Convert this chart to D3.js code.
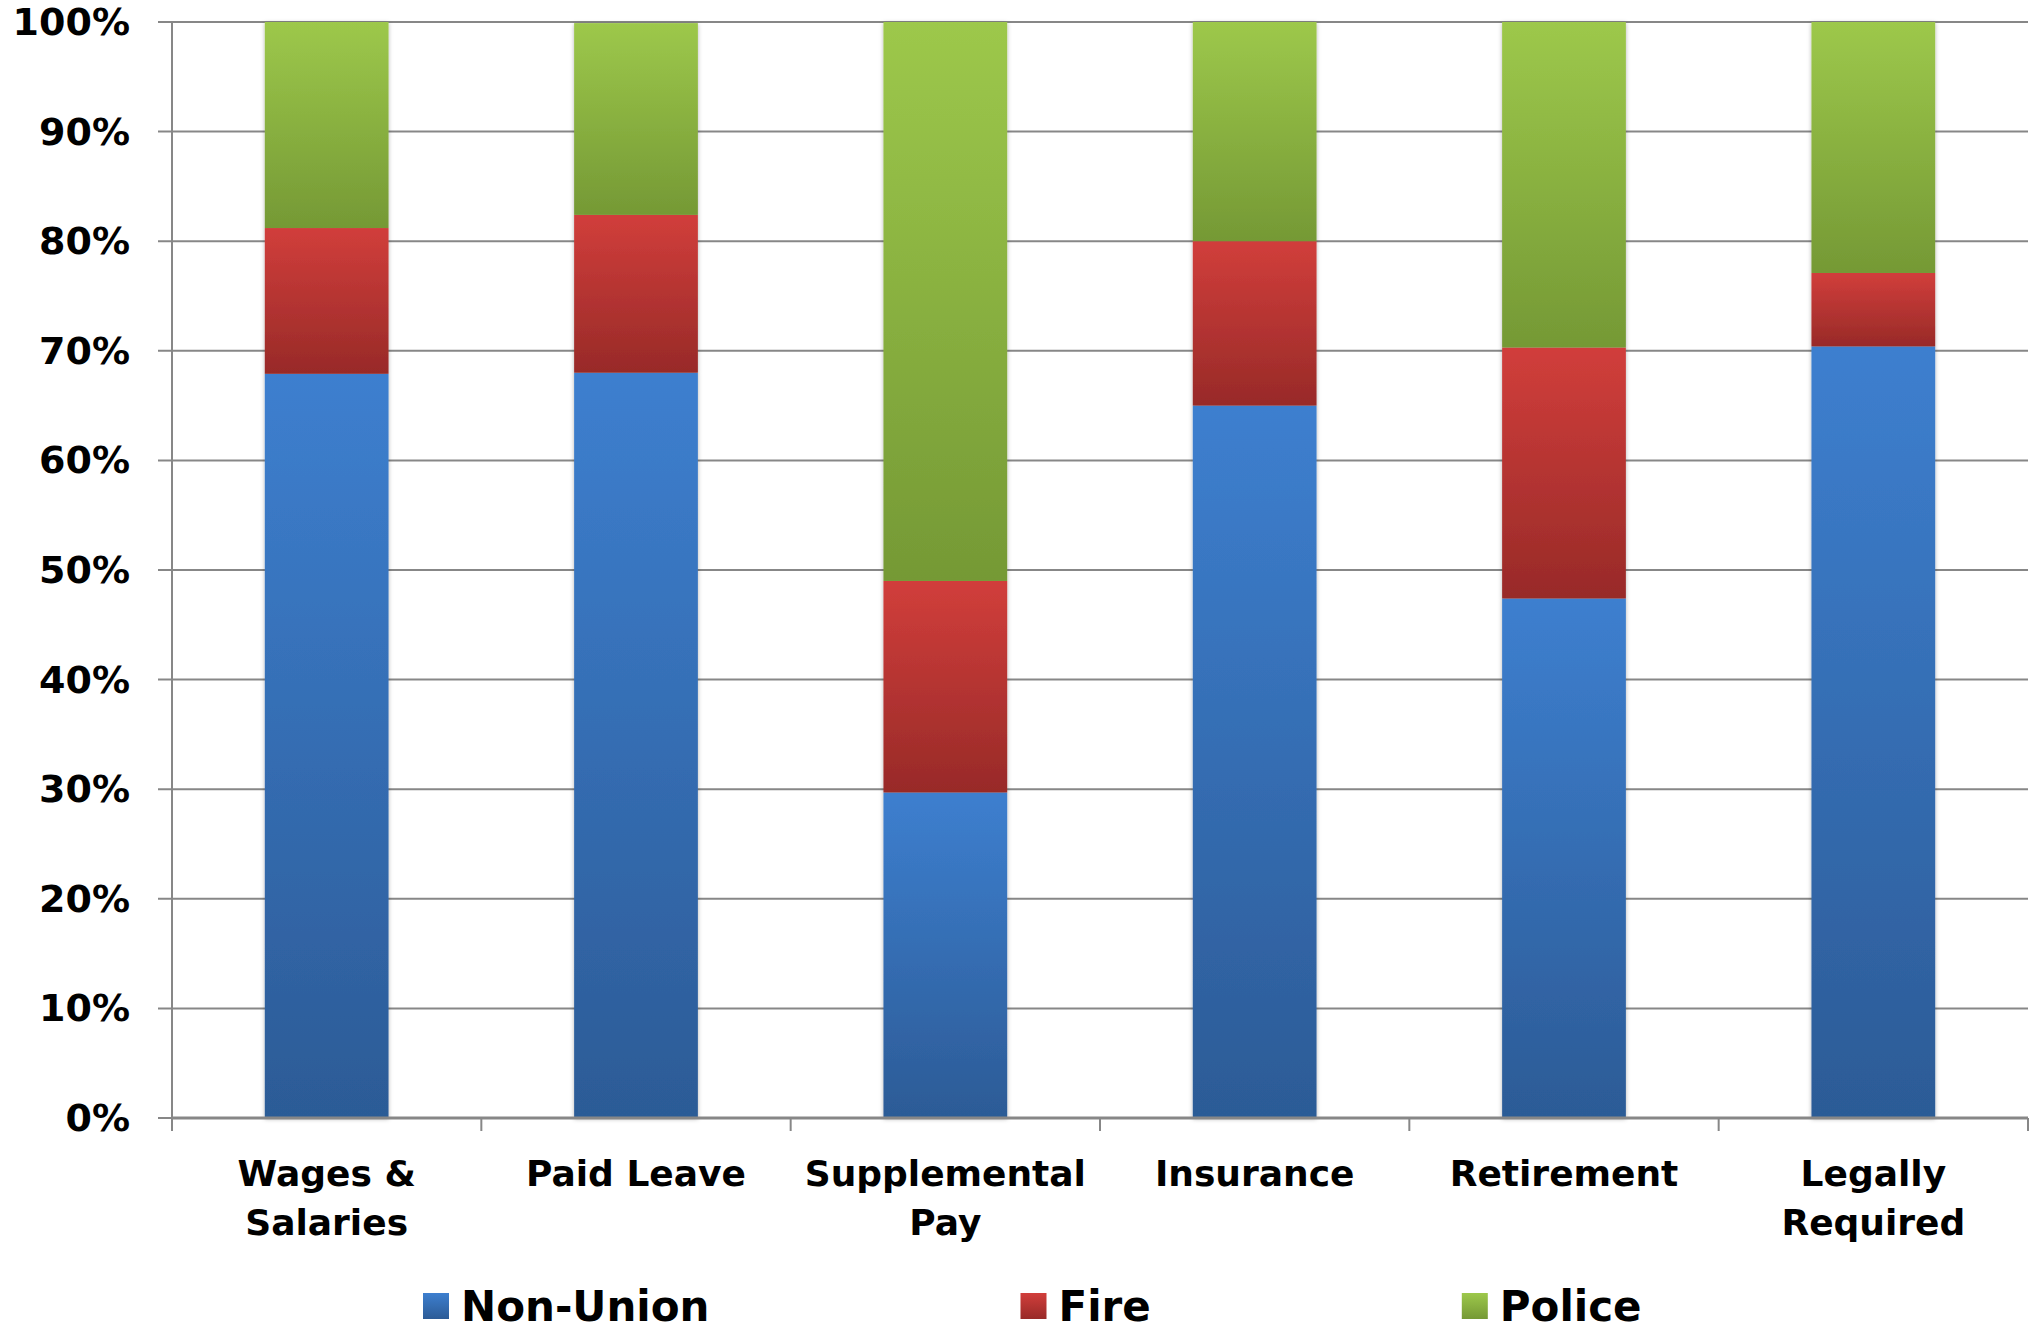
<!DOCTYPE html>
<html>
<head>
<meta charset="utf-8">
<script src="https://cdn.jsdelivr.net/npm/d3@7"></script>
<style>
  html, body { margin: 0; padding: 0; background: #ffffff; }
  svg { display: block; }
  text { font-family: "DejaVu Sans", Verdana, sans-serif; font-weight: bold; fill: #000; }
</style>
</head>
<body>
<svg id="chart" width="2036" height="1335"></svg>
<script>
// ---- Data ----
const categories = ["Wages & Salaries", "Paid Leave", "Supplemental Pay", "Insurance", "Retirement", "Legally Required"];
const categoryLabels = [["Wages &", "Salaries"], ["Paid Leave"], ["Supplemental", "Pay"], ["Insurance"], ["Retirement"], ["Legally", "Required"]];
const seriesNames = ["Non-Union", "Fire", "Police"];
const nonUnion = [67.9, 68.0, 29.7, 65.0, 47.4, 70.4];
const fire     = [13.3, 14.4, 19.3, 15.0, 22.9, 6.7];
const police   = [18.8, 17.5, 51.0, 20.0, 29.7, 22.9];
const yTicks = [0, 10, 20, 30, 40, 50, 60, 70, 80, 90, 100];

// ---- Layout ----
const W = 2036, H = 1335;
const plot = { left: 172, right: 2028, top: 22, bottom: 1118 };
const gradColors = {
  "Non-Union": ["#3d7fcf", "#2c5b96"],
  "Fire": ["#d13e3b", "#982a28"],
  "Police": ["#9dc84b", "#759935"]
};

const svg = d3.select("#chart");
const defs = svg.append("defs");
seriesNames.forEach((s, i) => {
  const g = defs.append("linearGradient").attr("id", "grad" + i)
    .attr("x1", 0).attr("y1", 0).attr("x2", 0).attr("y2", 1);
  g.append("stop").attr("offset", "0%").attr("stop-color", gradColors[s][0]);
  g.append("stop").attr("offset", "100%").attr("stop-color", gradColors[s][1]);
});
const f = defs.append("filter").attr("id", "shadow")
  .attr("x", "-20%").attr("y", "-5%").attr("width", "140%").attr("height", "110%");
f.append("feDropShadow").attr("dx", 0).attr("dy", 1).attr("stdDeviation", 2.2)
  .attr("flood-color", "#000").attr("flood-opacity", 0.3);

const x = d3.scaleBand().domain(categories)
  .range([plot.left, plot.right]).paddingInner(0.6).paddingOuter(0.3);
const y = d3.scaleLinear().domain([0, 100]).range([plot.bottom, plot.top]);

// Table for stacking
const table = categories.map((c, i) => ({ cat: c, "Non-Union": nonUnion[i], "Fire": fire[i], "Police": police[i] }));
const stacked = d3.stack().keys(seriesNames)(table);

// Gridlines
const grid = svg.append("g");
grid.selectAll("line").data(yTicks).join("line")
  .attr("x1", plot.left - 14).attr("x2", plot.right)
  .attr("y1", d => y(d)).attr("y2", d => y(d))
  .attr("stroke", "#878787").attr("stroke-width", 2);

// Y axis line
svg.append("line").attr("x1", plot.left).attr("x2", plot.left)
  .attr("y1", plot.top).attr("y2", plot.bottom + 12)
  .attr("stroke", "#878787").attr("stroke-width", 2);

// Y labels
svg.append("g").selectAll("text").data(yTicks).join("text")
  .attr("x", 130).attr("y", d => y(d))
  .attr("text-anchor", "end").attr("dominant-baseline", "central")
  .style("font-size", "38px")
  .text(d => d + "%");

// Bars
const barsG = svg.append("g").attr("filter", "url(#shadow)");
stacked.forEach((layer, si) => {
  barsG.append("g").selectAll("rect").data(layer).join("rect")
    .attr("x", d => x(d.data.cat))
    .attr("width", x.bandwidth())
    .attr("y", d => y(d[1]))
    .attr("height", d => y(d[0]) - y(d[1]))
    .attr("fill", "url(#grad" + si + ")");
});

// X axis line
svg.append("line").attr("x1", plot.left).attr("x2", plot.right)
  .attr("y1", plot.bottom).attr("y2", plot.bottom)
  .attr("stroke", "#878787").attr("stroke-width", 3);

// X tick marks at band boundaries
const step = x.step();
const boundaries = d3.range(categories.length + 1).map(i => x(categories[0]) - step * x.paddingOuter() + i * step);
svg.append("g").selectAll("line").data(boundaries).join("line")
  .attr("x1", d => d).attr("x2", d => d)
  .attr("y1", plot.bottom).attr("y2", plot.bottom + 13)
  .attr("stroke", "#878787").attr("stroke-width", 2);

// X labels
const xl = svg.append("g");
categories.forEach((c, i) => {
  const t = xl.append("text")
    .attr("x", x(c) + x.bandwidth() / 2)
    .attr("y", 1186)
    .attr("text-anchor", "middle")
    .style("font-size", "36px");
  categoryLabels[i].forEach((line, li) => {
    t.append("tspan").attr("x", x(c) + x.bandwidth() / 2)
      .attr("dy", li === 0 ? 0 : 49).text(line);
  });
});

// Legend
const legend = svg.append("g");
let lx = 423;
const legendGap = 311;
seriesNames.forEach((s, i) => {
  legend.append("rect").attr("x", lx).attr("y", 1293).attr("width", 26).attr("height", 26)
    .attr("fill", "url(#grad" + i + ")");
  const t = legend.append("text").attr("x", lx + 38).attr("y", 1321)
    .style("font-size", "42px").text(s);
  const w = t.node().getComputedTextLength();
  lx = lx + 38 + w + legendGap;
});
</script>
</body>
</html>
